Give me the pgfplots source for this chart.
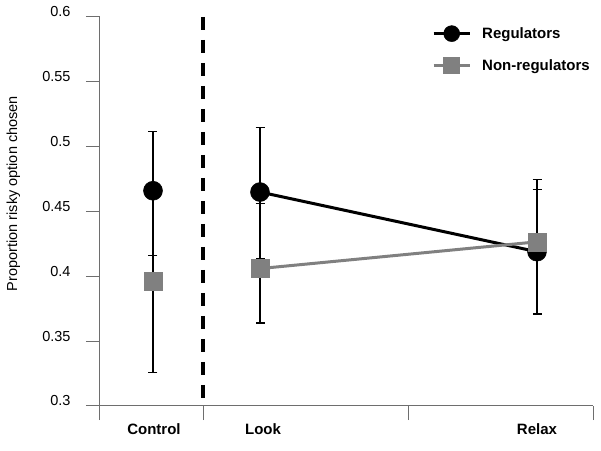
\documentclass[border=0pt]{standalone}
\usepackage{pgfplots}
\pgfplotsset{compat=1.18}
\usepackage{fontspec}
\setmainfont{Liberation Sans}

\definecolor{axgray}{RGB}{110,110,110}
\definecolor{nrgray}{RGB}{128,128,128}

\begin{document}
\begin{tikzpicture}
\path[use as bounding box] (-100bp,-45bp) rectangle (501bp,406bp);
\begin{axis}[
    at={(0,0)}, anchor=south west,
    scale only axis, width=493bp, height=389bp,
    xmin=100, xmax=593, ymin=0.3, ymax=0.6,
    axis lines=left,
    axis line style={-, axgray, line width=1bp},
    tick style={axgray, line width=1bp},
    tick align=outside, major tick length=14bp,
    xtick={100,203,408,593}, xticklabels={},
    extra x ticks={154,263,537},
    extra x tick labels={Control,Look,Relax},
    extra x tick style={major tick length=0pt,
        tick label style={font=\fontsize{15bp}{18bp}\selectfont\bfseries, anchor=base, yshift=-29bp}},
    ytick={0.3,0.35,0.4,0.45,0.5,0.55,0.6},
    yticklabels={0.3,0.35,0.4,0.45,0.5,0.55,0.6},
    yticklabel style={font=\fontsize{14.5bp}{17bp}\selectfont, anchor=base east, xshift=-12bp},
    ylabel={Proportion risky option chosen},
    ylabel style={font=\fontsize{14.5bp}{17bp}\selectfont, at={(axis description cs:-0.1755,0.546)}, anchor=center},
    legend style={draw=none, fill=none, inner sep=0pt, at={(axis cs:432,0.5935)}, anchor=north west,
        font=\fontsize{15bp}{18bp}\selectfont\bfseries, row sep=16bp,
        nodes={inner sep=0pt, anchor=west},
        /tikz/every odd column/.append style={column sep=11bp}},
    legend image code/.code={\draw[mark repeat=2,mark phase=2,#1,mark size=8bp]
        plot coordinates {(0bp,0bp) (18bp,0bp) (36bp,0bp)};},
    error bars/error bar style={black, line width=1.2bp},
    error bars/error mark options={black, line width=1.2bp, mark size=4.5bp, rotate=90},
]
% divider between control and the two conditions
\addplot[black, line width=3.5bp, dash pattern=on 13bp off 10bp, forget plot]
    coordinates {(203,0.6) (203,0.3)};

% regulators
\addplot[black, line width=3bp, mark=*, mark size=9.5bp, mark options={solid, line width=0.5bp},
    error bars/.cd, y dir=both, y explicit]
    coordinates {(260,0.465) += (0,0.050) -= (0,0.051)
                 (537,0.419) += (0,0.048) -= (0,0.048)};
\addlegendentry{Regulators}
\addplot[black, only marks, mark=*, mark size=9.5bp, mark options={solid, line width=0.5bp}, forget plot,
    error bars/.cd, y dir=both, y explicit]
    coordinates {(153,0.466) += (0,0.046) -= (0,0.050)};

% non-regulators
\addplot[nrgray, line width=3bp, mark=square*, mark size=9bp, mark options={solid, line width=0.5bp},
    error bars/.cd, y dir=both, y explicit]
    coordinates {(260,0.406) += (0,0.050) -= (0,0.042)
                 (537,0.4266) += (0,0.048) -= (0,0.055)};
\addlegendentry{Non-regulators}
\addplot[nrgray, only marks, mark=square*, mark size=9bp, mark options={solid, line width=0.5bp}, forget plot,
    error bars/.cd, y dir=both, y explicit]
    coordinates {(153,0.396) += (0,0.070) -= (0,0.070)};
\end{axis}
\end{tikzpicture}
\end{document}
